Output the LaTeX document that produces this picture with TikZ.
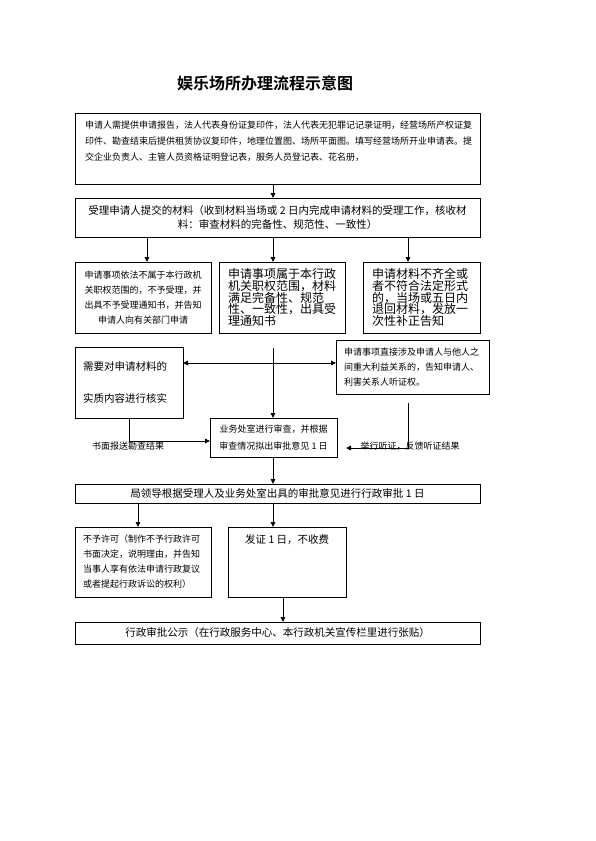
\documentclass[tikz,border=0pt]{standalone}
\usepackage{fontspec}
\setmainfont{Noto Sans CJK SC}
\newfontfamily\cjkbold{Noto Sans CJK SC Bold}
\usetikzlibrary{arrows.meta}
\begin{document}
\begin{tikzpicture}[x=1pt,y=-1pt,
  box/.style={draw, line width=0.9pt, anchor=north west, inner sep=0pt, outer sep=0pt},
  arr/.style={line width=0.9pt, -{Triangle[length=5pt,width=4.5pt]}},
  ln/.style={line width=0.9pt},
  tiny/.style={font=\fontsize{9}{15}\selectfont},
  mid/.style={font=\fontsize{10.5}{14}\selectfont},
  big/.style={font=\fontsize{12}{11.8}\selectfont}]
\useasboundingbox (0,0) rectangle (595,841);
% column coordinates
\coordinate (xc) at (273,0);
\coordinate (xa) at (147,0);
\coordinate (xr) at (408,0);
\coordinate (xl) at (129,0);
\coordinate (xd) at (138,0);
\coordinate (xe) at (283,0);
\coordinate (hy) at (0,363);
\coordinate (ly) at (0,441);
\coordinate (ry) at (0,448);

\node[font=\cjkbold\fontsize{16}{18}\selectfont] (title) at (265,83) {娱乐场所办理流程示意图};

% top box
\node[box, minimum width=405pt, minimum height=71pt] (top) at (75,113) {};
\node[tiny, font=\fontsize{9}{16}\selectfont, anchor=north west, inner sep=0pt, align=left] (toptext) at (85,120.5)
 {申请人需提供申请报告，法人代表身份证复印件，法人代表无犯罪记记录证明，经营场所产权证复\\
  印件、勘查结束后提供租赁协议复印件，地理位置图、场所平面图。填写经营场所开业申请表。提\\
  交企业负责人、主管人员资格证明登记表，服务人员登记表、花名册，};

% accept box
\node[box, mid, minimum width=405pt, minimum height=39pt, align=center] (acc) at (75,198)
 {受理申请人提交的材料（收到材料当场或 2 日内完成申请材料的受理工作，核收材\\
  料：审查材料的完备性、规范性、一致性）};

% three result boxes
\node[box, tiny, minimum width=136pt, minimum height=71pt, align=center] (na) at (75,262)
 {申请事项依法不属于本行政机\\关职权范围的，不予受理，并\\出具不予受理通知书，并告知\\申请人向有关部门申请};
\node[box, big, minimum width=126pt, minimum height=71pt, text width=108pt, inner xsep=9pt, align=left] (ok) at (219,262)
 {申请事项属于本行政\\机关职权范围，材料\\满足完备性、规范\\性、一致性，出具受\\理通知书};
\node[box, big, minimum width=117pt, minimum height=71pt, text width=99pt, inner xsep=9pt, align=left] (bad) at (363,262)
 {申请材料不齐全或\\者不符合法定形式\\的，当场或五日内\\退回材料，发放一\\次性补正告知};

% verification box
\node[box, font=\fontsize{10.5}{32}\selectfont, minimum width=108pt, minimum height=71pt, text width=92pt, inner xsep=8pt, align=left] (ml) at (75,347)
 {需要对申请材料的\\实质内容进行核实};
% hearing box
\node[box, tiny, minimum width=153pt, minimum height=54pt, text width=137pt, inner xsep=8pt, align=left] (hr) at (336,340)
 {申请事项直接涉及申请人与他人之\\间重大利益关系的，告知申请人、\\利害关系人听证权。};
% review box
\node[box, font=\fontsize{9}{17}\selectfont, minimum width=127pt, minimum height=39pt, align=center] (rv) at (210,418)
 {业务处室进行审查，并根据\\审查情况拟出审批意见 1 日};

% leader approval
\node[box, mid, minimum width=405pt, minimum height=19pt] (boss) at (75,484)
 {局领导根据受理人及业务处室出具的审批意见进行行政审批 1 日};

% not permitted
\node[box, tiny, minimum width=136pt, minimum height=70pt, text width=120pt, inner xsep=8pt, align=left] (np) at (75,527)
 {不予许可（制作不予行政许可\\书面决定，说明理由，并告知\\当事人享有依法申请行政复议\\或者提起行政诉讼的权利）};
% certificate
\node[box, minimum width=118pt, minimum height=70pt] (cert) at (228,527) {};
\node[font=\fontsize{10.5}{14}\selectfont, anchor=west, inner sep=0pt] (certtext) at (245,540) {发证 1 日，不收费};

% publicity
\node[box, mid, minimum width=405pt, minimum height=22pt] (pub) at (75,622)
 {行政审批公示（在行政服务中心、本行政机关宣传栏里进行张贴）};

% labels
\node[tiny, inner sep=0pt] (lbl1) at (128,446) {书面报送勘查结果};
\node[tiny, inner sep=0pt] (lbl2) at (410,446) {举行听证，反馈听证结果};

% free-end coordinates
\coordinate (cstart) at (273,348);
\coordinate (rstart) at (408,403);

% connectors
\draw[arr] (top.south -| xc) -- (acc.north -| xc);
\draw[arr] (acc.south -| xa) -- (na.north -| xa);
\draw[arr] (acc.south -| xc) -- (ok.north -| xc);
\draw[arr] (acc.south -| xr) -- (bad.north -| xr);
\draw[arr] (cstart) -- (rv.north -| cstart);
\draw[line width=0.9pt, {Triangle[length=5pt,width=4.5pt]}-{Triangle[length=5pt,width=4.5pt]}] (ml.east |- hy) -- (hr.west |- hy);
\draw[arr] (ml.south -| xl) -- (xl |- ly) -- (rv.west |- ly);
\draw[arr, shorten >=9pt] (rstart) -- (rstart |- ry) -- (rv.east |- ry);
\draw[arr] (rv.south -| xc) -- (boss.north -| xc);
\draw[arr] (boss.south -| xd) -- (np.north -| xd);
\draw[arr] (boss.south -| xc) -- (cert.north -| xc);
\draw[arr] (cert.south -| xe) -- (pub.north -| xe);
\end{tikzpicture}
\end{document}
